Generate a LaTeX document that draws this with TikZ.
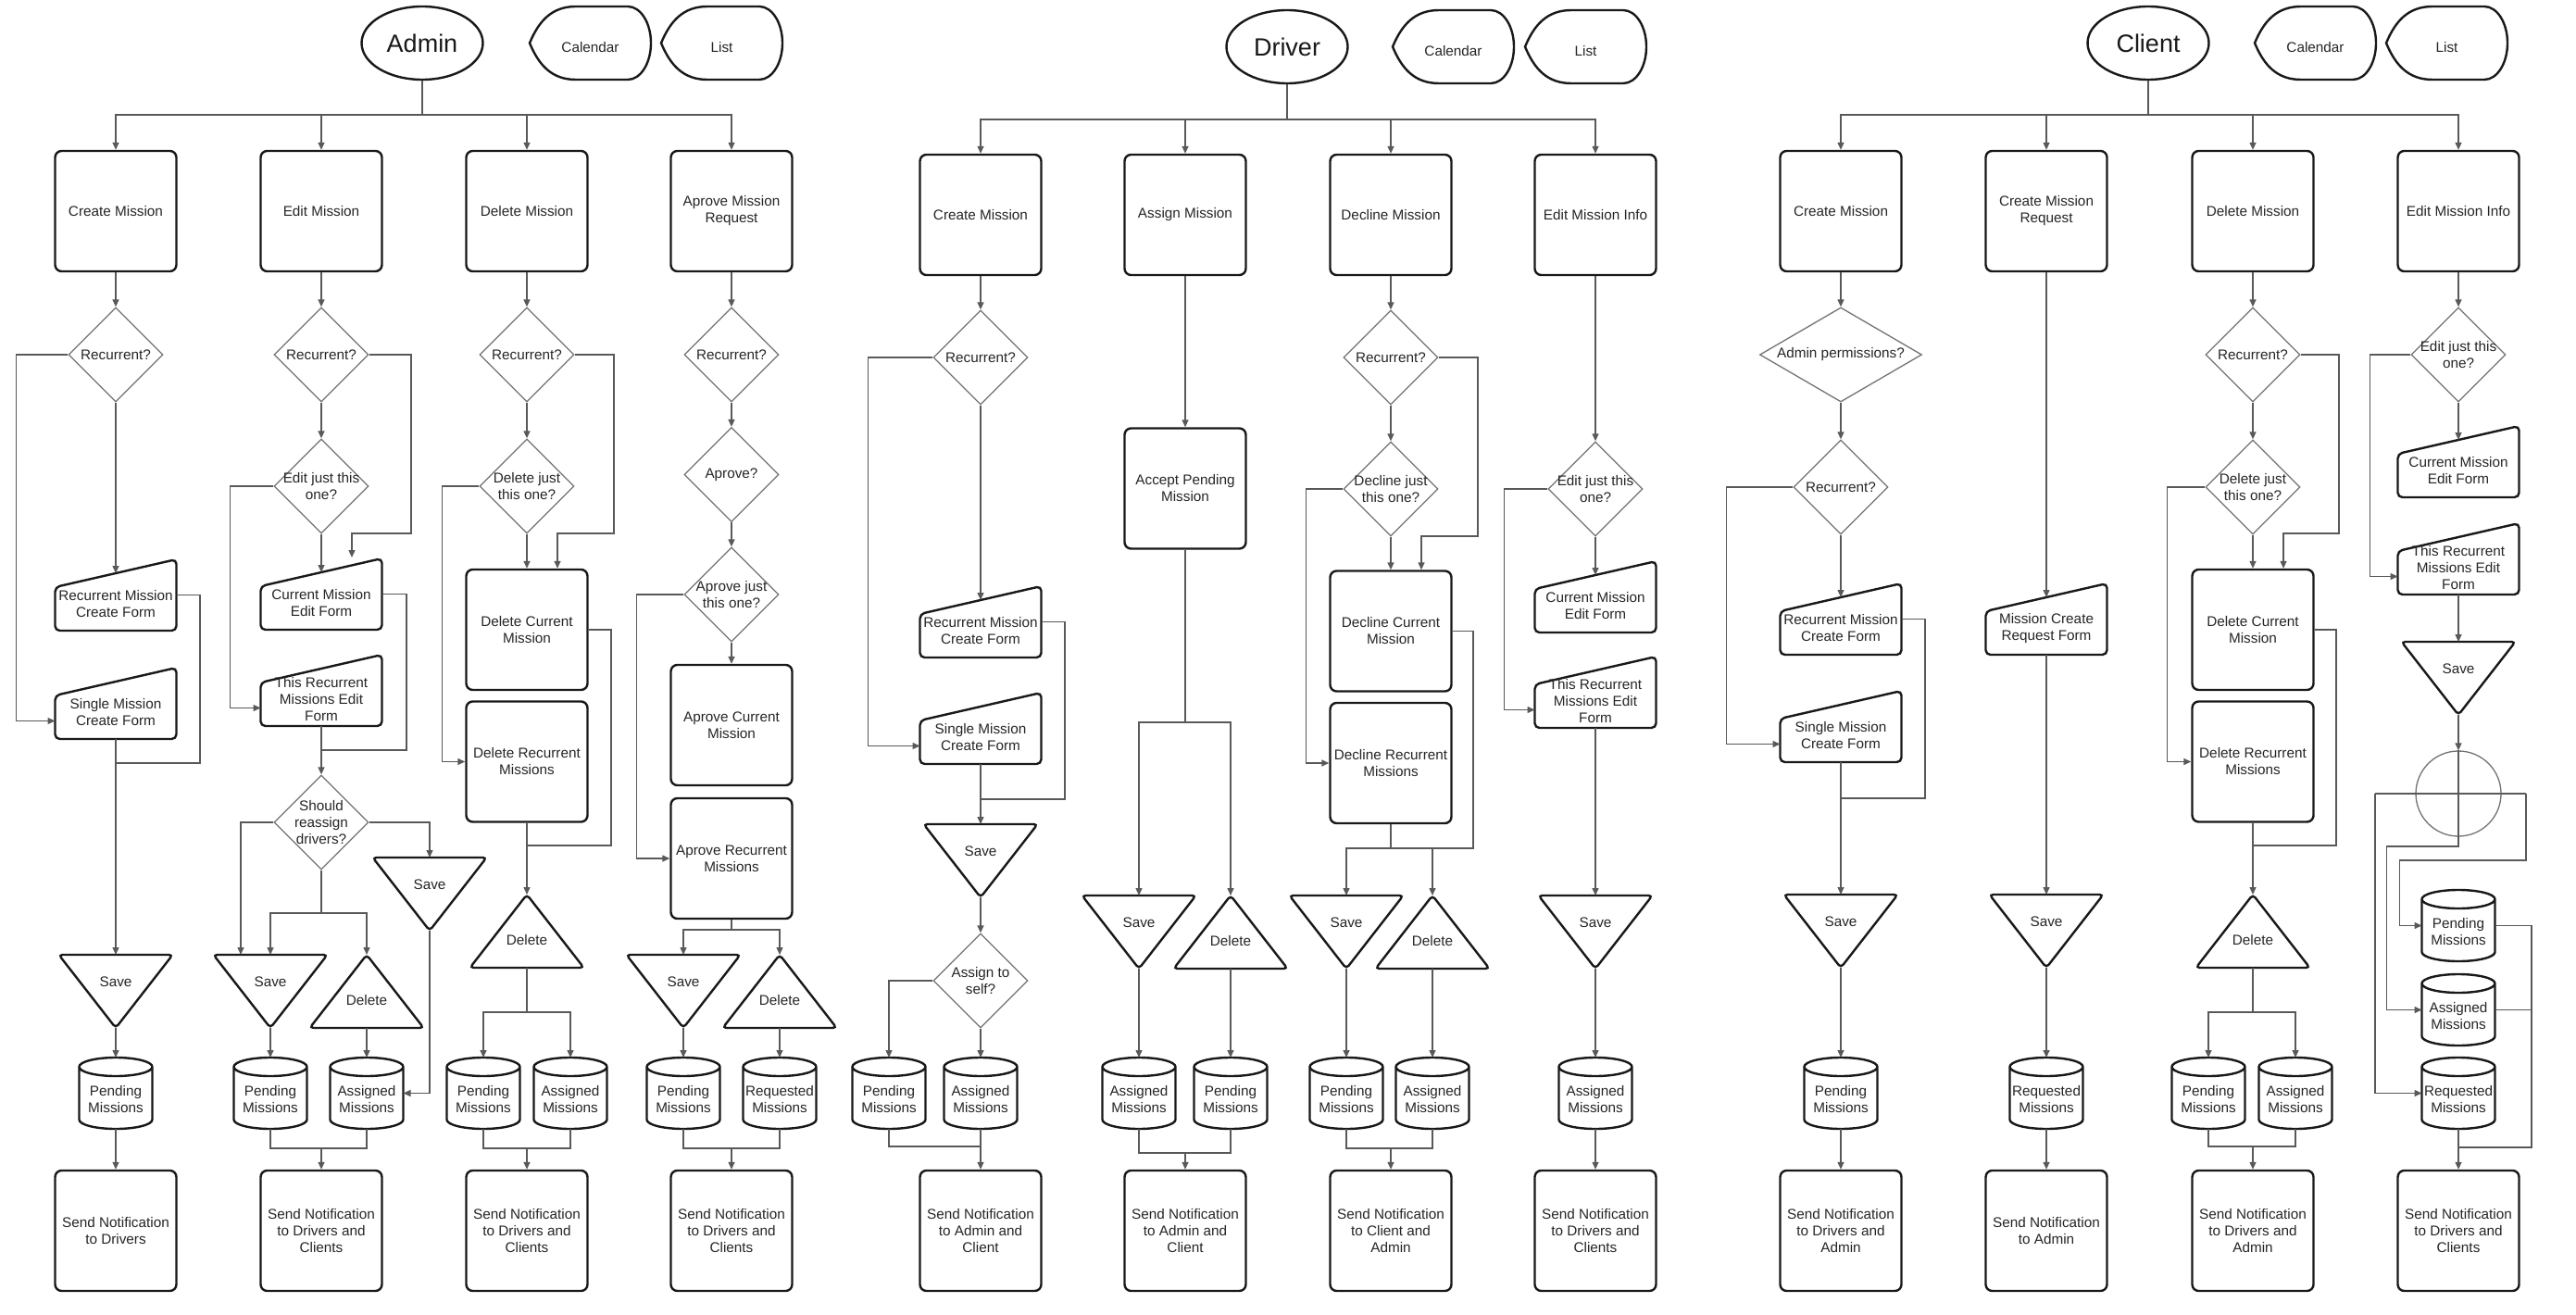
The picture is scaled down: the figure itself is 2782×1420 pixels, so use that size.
\documentclass[tikz,border=0pt]{standalone}
\usepackage{fontspec}
\setmainfont{Liberation Sans}
\usetikzlibrary{shapes.geometric,arrows.meta}
\newcommand\ftext{\fontsize{15.3}{18}\selectfont}
\tikzset{
  inv/.style={rectangle, draw=none, inner sep=0pt, outer sep=0pt},
  txt/.style={font=\ftext, align=center, text=black!85, inner sep=0pt},
  proc/.style={rectangle, draw=black!90, line width=2.4pt, rounded corners=7pt, minimum width=131pt, minimum height=130pt, font=\ftext, align=center, text=black!85, fill=white, inner sep=1pt},
  shapeline/.style={draw=black!90, line width=2.4pt, fill=white},
  decs/.style={diamond, draw=black!55, line width=1.3pt, inner sep=0pt, aspect=1, fill=white},
  role/.style={ellipse, draw=black!90, line width=2.4pt, minimum width=131pt, minimum height=79pt, font=\fontsize{27}{30}\selectfont, text=black!90, inner sep=0pt},
  conn/.style={draw=black!65, line width=1.4pt},
  arr/.style={conn, -{Triangle[length=8pt,width=7pt]}},
}
\newcommand\myForm[4]{%
 \node[inv, minimum width=131pt, minimum height=77pt] (#1) at (#2,#3+38.5) {};
 \draw[shapeline, rounded corners=5pt] ([yshift=-30pt]#1.north west) -- (#1.north east) -- (#1.south east) -- (#1.south west) -- cycle;
 \node[txt] (#1-t) at ([yshift=-10pt]#1.center) {#4};
 \coordinate (#1-top) at ([yshift=-15pt]#1.north);
 \coordinate (#1-in) at ([yshift=-19pt]#1.west);
}
\newcommand\mySave[3]{%
 \node[inv, minimum width=123pt, minimum height=79pt] (#1) at (#2,#3+39.5) {};
 \draw[shapeline, rounded corners=4pt] (#1.north west) -- (#1.north east) -- (#1.south) -- cycle;
 \node[txt] (#1-t) at ([yshift=10pt]#1.center) {Save};
}
\newcommand\myDel[3]{%
 \node[inv, minimum width=123pt, minimum height=79pt] (#1) at (#2,#3+39.5) {};
 \draw[shapeline, rounded corners=4pt] (#1.south west) -- (#1.south east) -- (#1.north) -- cycle;
 \node[txt] (#1-t) at ([yshift=-10pt]#1.center) {Delete};
}
\newcommand\myCyl[4]{%
 \node[inv, minimum width=79pt, minimum height=77pt] (#1) at (#2,#3+38.5) {};
 \draw[shapeline] ([yshift=-10pt]#1.north west) -- ([yshift=10pt]#1.south west) arc[start angle=180, end angle=360, x radius=39.5pt, y radius=10pt] -- ([yshift=-10pt]#1.north east) arc[start angle=0, end angle=360, x radius=39.5pt, y radius=10pt];
 \node[txt] (#1-t) at ([yshift=-7pt]#1.center) {#4};
}
\newcommand\myDia[5]{%
 \node[decs, minimum width=#4pt, minimum height=102pt] (#1) at (#2,#3) {};
 \node[txt] (#1-t) at (#1.center) {#5};
}
\newcommand\myDisp[4]{%
 \node[inv, minimum width=131pt, minimum height=79pt] (#1) at (#2+65.5,#3+39.5) {};
 \draw[shapeline] (#1.west) .. controls ([xshift=10pt,yshift=24pt]#1.west) and ([xshift=24pt]#1.north west) .. ([xshift=50pt]#1.north west) -- ([xshift=-25pt]#1.north east) arc[start angle=90, end angle=-90, x radius=25pt, y radius=39.5pt] -- ([xshift=50pt]#1.south west) .. controls ([xshift=24pt]#1.south west) and ([xshift=10pt,yshift=-24pt]#1.west) .. (#1.west) -- cycle;
 \node[txt] (#1-t) at ([yshift=-5pt]#1.center) {#4};
}
\begin{document}
\begin{tikzpicture}[x=1pt,y=-1pt]
\fill[white] (0,0) rectangle (2782,1420);
\useasboundingbox (0,0) rectangle (2782,1420);

%================ ADMIN ================
\node[role] (admin) at (456,46.5) {Admin};
\myDisp{calA}{572}{7}{Calendar}
\myDisp{listA}{714}{7}{List}
\node[proc] (bA1) at (125,228) {Create Mission};
\node[proc] (bA2) at (347,228) {Edit Mission};
\node[proc] (bA3) at (569,228) {Delete Mission};
\node[proc] (bA4) at (790,228) {Aprove Mission\\Request};
\coordinate (busA) at (456,124);
\draw[conn] (admin.south) -- (busA);
\foreach \n in {bA1,bA2,bA3,bA4} \draw[arr] (busA) -| (\n.north);

% A1
\myDia{dA1r}{125}{383}{102}{Recurrent?}
\myForm{fA1r}{125}{604}{Recurrent Mission\\Create Form}
\myForm{fA1s}{125}{721}{Single Mission\\Create Form}
\mySave{sA1}{125}{1031}
\myCyl{cA1}{125}{1142}{Pending\\Missions}
\node[proc] (nA1) at (125,1329) {Send Notification\\to Drivers};
\draw[arr] (bA1.south) -- (dA1r.north);
\draw[arr] (dA1r.south) -- (fA1r-top);
\draw[arr] (dA1r.west) -| ([xshift=-42pt]fA1s-in) -- (fA1s-in);
\draw[conn] (fA1r.east) -| (216,824) -- (125,824);
\draw[arr] (fA1s.south) -- (sA1.north);
\draw[arr] (sA1.south) -- (cA1.north);
\draw[arr] (cA1.south) -- (nA1.north);

% A2
\myDia{dA2r}{347}{383}{102}{Recurrent?}
\myDia{dA2e}{347}{525}{102}{Edit just this\\one?}
\myForm{fA2c}{347}{603}{Current Mission\\Edit Form}
\myForm{fA2t}{347}{707}{This Recurrent\\Missions Edit\\Form}
\myDia{dA2s}{347}{888}{102}{Should\\reassign\\drivers?}
\mySave{sA2}{292}{1031}
\myDel{xA2}{396}{1031}
\mySave{sA2b}{464}{926}
\myCyl{cA2p}{292}{1142}{Pending\\Missions}
\myCyl{cA2a}{396}{1142}{Assigned\\Missions}
\node[proc] (nA2) at (347,1329) {Send Notification\\to Drivers and\\Clients};
\draw[arr] (bA2.south) -- (dA2r.north);
\draw[arr] (dA2r.south) -- (dA2e.north);
\draw[arr] (dA2e.south) -- (fA2c-top);
\coordinate (pA2) at (380,602);
\draw[arr] (dA2r.east) -| (444,576) -| (pA2);
\draw[arr] (dA2e.west) -| ([xshift=-33pt]fA2t-in) -- (fA2t-in);
\draw[conn] (fA2c.east) -| (439,810) -- (347,810);
\draw[arr] (fA2t.south) -- (dA2s.north);
\draw[arr] (dA2s.west) -| ([xshift=-32pt]sA2.north);
\draw[arr] (dA2s.east) -| (sA2b.north);
\coordinate (kA2) at (347,986);
\draw[conn] (dA2s.south) -- (kA2);
\draw[arr] (kA2) -| (sA2.north);
\draw[arr] (kA2) -| (xA2.north);
\draw[arr] (sA2.south) -- (cA2p.north);
\draw[arr] (xA2.south) -- (cA2a.north);
\draw[arr] (sA2b.south) |- (cA2a.east);
\coordinate (jA2) at (347,1240);
\draw[conn] (cA2p.south) |- (jA2) -| (cA2a.south);
\draw[arr] (jA2) -- (nA2.north);

% A3
\myDia{dA3r}{569}{383}{102}{Recurrent?}
\myDia{dA3d}{569}{525}{102}{Delete just\\this one?}
\node[proc] (bA3c) at (569,680) {Delete Current\\Mission};
\node[proc] (bA3r) at (569,822.5) {Delete Recurrent\\Missions};
\myDel{xA3}{569}{966}
\myCyl{cA3p}{522}{1142}{Pending\\Missions}
\myCyl{cA3a}{616}{1142}{Assigned\\Missions}
\node[proc] (nA3) at (569,1329) {Send Notification\\to Drivers and\\Clients};
\draw[arr] (bA3.south) -- (dA3r.north);
\draw[arr] (dA3r.south) -- (dA3d.north);
\draw[arr] (dA3d.south) -- (bA3c.north);
\draw[arr] (dA3r.east) -| (663,576) -| ([xshift=33pt]bA3c.north);
\draw[arr] (dA3d.west) -| ([xshift=-25pt]bA3r.west) -- (bA3r.west);
\draw[conn] (bA3c.east) -| (660,913) -- (569,913);
\draw[arr] (bA3r.south) -- (xA3.north);
\coordinate (kA3) at (569,1093);
\draw[conn] (xA3.south) -- (kA3);
\draw[arr] (kA3) -| (cA3p.north);
\draw[arr] (kA3) -| (cA3a.north);
\coordinate (jA3) at (569,1240);
\draw[conn] (cA3p.south) |- (jA3) -| (cA3a.south);
\draw[arr] (jA3) -- (nA3.north);

% A4
\myDia{dA4r}{790}{383}{102}{Recurrent?}
\myDia{dA4a}{790}{512.5}{102}{Aprove?}
\myDia{dA4j}{790}{642}{102}{Aprove just\\this one?}
\node[proc] (bA4c) at (790,783) {Aprove Current\\Mission};
\node[proc] (bA4r) at (790,927) {Aprove Recurrent\\Missions};
\mySave{sA4}{738}{1031}
\myDel{xA4}{842}{1031}
\myCyl{cA4p}{738}{1142}{Pending\\Missions}
\myCyl{cA4q}{842}{1142}{Requested\\Missions}
\node[proc] (nA4) at (790,1329) {Send Notification\\to Drivers and\\Clients};
\draw[arr] (bA4.south) -- (dA4r.north);
\draw[arr] (dA4r.south) -- (dA4a.north);
\draw[arr] (dA4a.south) -- (dA4j.north);
\draw[arr] (dA4j.south) -- (bA4c.north);
\draw[arr] (dA4j.west) -| ([xshift=-36pt]bA4r.west) -- (bA4r.west);
\coordinate (kA4) at (790,1004);
\draw[conn] (bA4r.south) -- (kA4);
\draw[arr] (kA4) -| (sA4.north);
\draw[arr] (kA4) -| (xA4.north);
\draw[arr] (sA4.south) -- (cA4p.north);
\draw[arr] (xA4.south) -- (cA4q.north);
\coordinate (jA4) at (790,1240);
\draw[conn] (cA4p.south) |- (jA4) -| (cA4q.south);
\draw[arr] (jA4) -- (nA4.north);

%================ DRIVER ================
\node[role] (driver) at (1390,50.5) {Driver};
\myDisp{calD}{1504}{11}{Calendar}
\myDisp{listD}{1647}{11}{List}
\node[proc] (bD1) at (1059,232) {Create Mission};
\node[proc] (bD2) at (1280,232) {Assign Mission};
\node[proc] (bD3) at (1502,232) {Decline Mission};
\node[proc] (bD4) at (1723,232) {Edit Mission Info};
\coordinate (busD) at (1390,129);
\draw[conn] (driver.south) -- (busD);
\foreach \n in {bD1,bD2,bD3,bD4} \draw[arr] (busD) -| (\n.north);

% D1
\myDia{dD1r}{1059}{386}{102}{Recurrent?}
\myForm{fD1r}{1059}{633}{Recurrent Mission\\Create Form}
\myForm{fD1s}{1059}{748}{Single Mission\\Create Form}
\mySave{sD1}{1059}{890}
\myDia{dD1a}{1059}{1059}{102}{Assign to\\self?}
\myCyl{cD1p}{960}{1142}{Pending\\Missions}
\myCyl{cD1a}{1059}{1142}{Assigned\\Missions}
\node[proc] (nD1) at (1059,1329) {Send Notification\\to Admin and\\Client};
\draw[arr] (bD1.south) -- (dD1r.north);
\draw[arr] (dD1r.south) -- (fD1r-top);
\draw[arr] (dD1r.west) -| ([xshift=-56pt]fD1s-in) -- (fD1s-in);
\draw[conn] (fD1r.east) -| (1150,863) -- (1059,863);
\draw[arr] (fD1s.south) -- (sD1.north);
\draw[arr] (sD1.south) -- (dD1a.north);
\draw[arr] (dD1a.west) -| (cD1p.north);
\draw[arr] (dD1a.south) -- (cD1a.north);
\coordinate (jD1) at (1059,1238);
\draw[conn] (cD1p.south) |- (jD1);
\draw[conn] (cD1a.south) -- (jD1);
\draw[arr] (jD1) -- (nD1.north);

% D2
\node[proc] (bD2a) at (1280,527.5) {Accept Pending\\Mission};
\mySave{sD2}{1230}{967}
\myDel{xD2}{1329}{967}
\myCyl{cD2a}{1230}{1142}{Assigned\\Missions}
\myCyl{cD2p}{1329}{1142}{Pending\\Missions}
\node[proc] (nD2) at (1280,1329) {Send Notification\\to Admin and\\Client};
\draw[arr] (bD2.south) -- (bD2a.north);
\coordinate (kD2) at (1280,780);
\draw[conn] (bD2a.south) -- (kD2);
\draw[arr] (kD2) -| (sD2.north);
\draw[arr] (kD2) -| (xD2.north);
\draw[arr] (sD2.south) -- (cD2a.north);
\draw[arr] (xD2.south) -- (cD2p.north);
\coordinate (jD2) at (1280,1245);
\draw[conn] (cD2a.south) |- (jD2) -| (cD2p.south);
\draw[arr] (jD2) -- (nD2.north);

% D3
\myDia{dD3r}{1502}{386}{102}{Recurrent?}
\myDia{dD3d}{1502}{528}{102}{Decline just\\this one?}
\node[proc] (bD3c) at (1502,681.5) {Decline Current\\Mission};
\node[proc] (bD3r) at (1502,824) {Decline Recurrent\\Missions};
\mySave{sD3}{1454}{967}
\myDel{xD3}{1547}{967}
\myCyl{cD3p}{1454}{1142}{Pending\\Missions}
\myCyl{cD3a}{1547}{1142}{Assigned\\Missions}
\node[proc] (nD3) at (1502,1329) {Send Notification\\to Client and\\Admin};
\draw[arr] (bD3.south) -- (dD3r.north);
\draw[arr] (dD3r.south) -- (dD3d.north);
\draw[arr] (dD3d.south) -- (bD3c.north);
\draw[arr] (dD3r.east) -| (1596,579) -| ([xshift=33pt]bD3c.north);
\draw[arr] (dD3d.west) -| ([xshift=-25pt]bD3r.west) -- (bD3r.west);
\coordinate (kD3) at (1502,916);
\draw[conn] (bD3c.east) -| (1591,916) -- (kD3);
\draw[conn] (bD3r.south) -- (kD3);
\draw[arr] (kD3) -| (sD3.north);
\draw[arr] (kD3) -| (xD3.north);
\draw[arr] (sD3.south) -- (cD3p.north);
\draw[arr] (xD3.south) -- (cD3a.north);
\coordinate (jD3) at (1502,1240);
\draw[conn] (cD3p.south) |- (jD3) -| (cD3a.south);
\draw[arr] (jD3) -- (nD3.north);

% D4
\myDia{dD4e}{1723}{528}{102}{Edit just this\\one?}
\myForm{fD4c}{1723}{606}{Current Mission\\Edit Form}
\myForm{fD4t}{1723}{709}{This Recurrent\\Missions Edit\\Form}
\mySave{sD4}{1723}{967}
\myCyl{cD4a}{1723}{1142}{Assigned\\Missions}
\node[proc] (nD4) at (1723,1329) {Send Notification\\to Drivers and\\Clients};
\draw[arr] (bD4.south) -- (dD4e.north);
\draw[arr] (dD4e.south) -- (fD4c-top);
\draw[arr] (dD4e.west) -| ([xshift=-33pt]fD4t-in) -- (fD4t-in);
\draw[arr] (fD4t.south) -- (sD4.north);
\draw[arr] (sD4.south) -- (cD4a.north);
\draw[arr] (cD4a.south) -- (nD4.north);

%================ CLIENT ================
\node[role] (client) at (2320,46.5) {Client};
\myDisp{calC}{2435}{7}{Calendar}
\myDisp{listC}{2577}{7}{List}
\node[proc] (bC1) at (1988,228) {Create Mission};
\node[proc] (bC2) at (2210,228) {Create Mission\\Request};
\node[proc] (bC3) at (2433,228) {Delete Mission};
\node[proc] (bC4) at (2655,228) {Edit Mission Info};
\coordinate (busC) at (2320,124);
\draw[conn] (client.south) -- (busC);
\foreach \n in {bC1,bC2,bC3,bC4} \draw[arr] (busC) -| (\n.north);

% C1
\myDia{dC1p}{1988}{383}{175}{Admin permissions?}
\myDia{dC1r}{1988}{526}{102}{Recurrent?}
\myForm{fC1r}{1988}{630}{Recurrent Mission\\Create Form}
\myForm{fC1s}{1988}{746}{Single Mission\\Create Form}
\mySave{sC1}{1988}{966}
\myCyl{cC1}{1988}{1142}{Pending\\Missions}
\node[proc] (nC1) at (1988,1329) {Send Notification\\to Drivers and\\Admin};
\draw[arr] (bC1.south) -- (dC1p.north);
\draw[arr] (dC1p.south) -- (dC1r.north);
\draw[arr] (dC1r.south) -- (fC1r-top);
\draw[arr] (dC1r.west) -| ([xshift=-58pt]fC1s-in) -- (fC1s-in);
\draw[conn] (fC1r.east) -| (2079,862) -- (1988,862);
\draw[arr] (fC1s.south) -- (sC1.north);
\draw[arr] (sC1.south) -- (cC1.north);
\draw[arr] (cC1.south) -- (nC1.north);

% C2
\myForm{fC2}{2210}{630}{Mission Create\\Request Form}
\mySave{sC2}{2210}{966}
\myCyl{cC2}{2210}{1142}{Requested\\Missions}
\node[proc] (nC2) at (2210,1329) {Send Notification\\to Admin};
\draw[arr] (bC2.south) -- (fC2-top);
\draw[arr] (fC2.south) -- (sC2.north);
\draw[arr] (sC2.south) -- (cC2.north);
\draw[arr] (cC2.south) -- (nC2.north);

% C3
\myDia{dC3r}{2433}{383}{102}{Recurrent?}
\myDia{dC3d}{2433}{526}{102}{Delete just\\this one?}
\node[proc] (bC3c) at (2433,680) {Delete Current\\Mission};
\node[proc] (bC3r) at (2433,822.5) {Delete Recurrent\\Missions};
\myDel{xC3}{2433}{966}
\myCyl{cC3p}{2385}{1142}{Pending\\Missions}
\myCyl{cC3a}{2479}{1142}{Assigned\\Missions}
\node[proc] (nC3) at (2433,1329) {Send Notification\\to Drivers and\\Admin};
\draw[arr] (bC3.south) -- (dC3r.north);
\draw[arr] (dC3r.south) -- (dC3d.north);
\draw[arr] (dC3d.south) -- (bC3c.north);
\draw[arr] (dC3r.east) -| (2526,576) -| ([xshift=33pt]bC3c.north);
\draw[arr] (dC3d.west) -| ([xshift=-26pt]bC3r.west) -- (bC3r.west);
\draw[conn] (bC3c.east) -| (2523,913) -- (2433,913);
\draw[arr] (bC3r.south) -- (xC3.north);
\coordinate (kC3) at (2433,1093);
\draw[conn] (xC3.south) -- (kC3);
\draw[arr] (kC3) -| (cC3p.north);
\draw[arr] (kC3) -| (cC3a.north);
\coordinate (jC3) at (2433,1238);
\draw[conn] (cC3p.south) |- (jC3) -| (cC3a.south);
\draw[arr] (jC3) -- (nC3.north);

% C4
\myDia{dC4e}{2655}{383}{102}{Edit just this\\one?}
\myForm{fC4c}{2655}{460}{Current Mission\\Edit Form}
\myForm{fC4t}{2655}{565}{This Recurrent\\Missions Edit\\Form}
\mySave{sC4}{2655}{693}
\node[circle, draw=black!55, line width=1.3pt, minimum size=92pt, inner sep=0pt] (oC4) at (2655,857) {};
\myCyl{cC4p}{2655}{961}{Pending\\Missions}
\myCyl{cC4a}{2655}{1052}{Assigned\\Missions}
\myCyl{cC4q}{2655}{1142}{Requested\\Missions}
\node[proc] (nC4) at (2655,1329) {Send Notification\\to Drivers and\\Clients};
\draw[arr] (bC4.south) -- (dC4e.north);
\draw[arr] (dC4e.south) -- (fC4c-top);
\draw[arr] (dC4e.west) -| ([xshift=-30pt]fC4t-in) -- (fC4t-in);
\draw[arr] (fC4t.south) -- (sC4.north);
\draw[arr] (sC4.south) -- (oC4.north);
\draw[arr] (oC4.north) -- (2655,914) -| ([xshift=-38pt]cC4a.west) -- (cC4a.west);
\coordinate (hL) at (2565,857);
\coordinate (hR) at (2728,857);
\draw[conn] (hL) -- (hR);
\draw[arr] (hL) |- (cC4q.west);
\draw[arr] (hR) -- (2728,929) -| ([xshift=-24pt]cC4p.west) -- (cC4p.west);
\coordinate (jC4) at (2655,1239);
\draw[conn] (cC4p.east) -| (2734,1239) -- (jC4);
\draw[conn] (cC4a.east) -- ++(39.5pt,0pt);
\draw[arr] (cC4q.south) -- (nC4.north);
\end{tikzpicture}
\end{document}
